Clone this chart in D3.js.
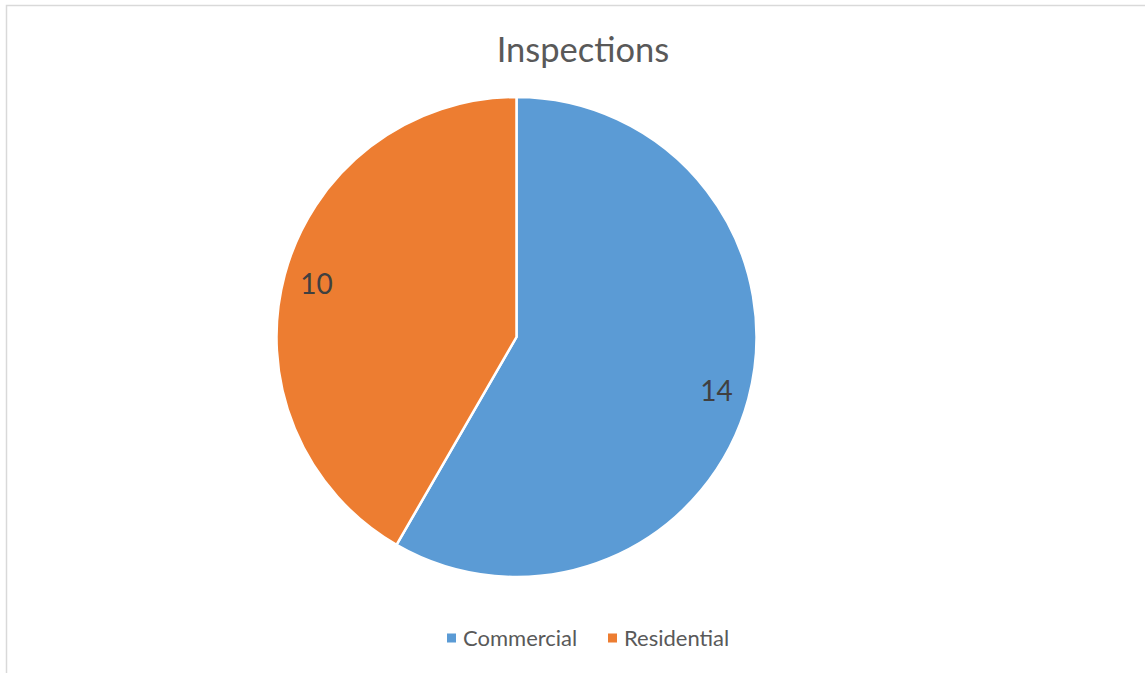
<!DOCTYPE html>
<html>
<head>
<meta charset="utf-8">
<script src="https://cdn.jsdelivr.net/npm/d3@7"></script>
<style>
  body { margin: 0; background: #fff; }
  text { font-family: Lato, "Open Sans", sans-serif; }
</style>
</head>
<body>
<script>
var categories = ["Commercial", "Residential"];
var values = [14, 10];
var colors = ["#5B9BD5", "#ED7D31"];
var title = "Inspections";

var width = 1145, height = 673;
var cx = 516.5, cy = 337, radius = 240;

var svg = d3.select("body").append("svg")
    .attr("width", width)
    .attr("height", height);

// chart border (only top and left show in the crop)
svg.append("rect")
    .attr("x", 6.5).attr("y", 5.5)
    .attr("width", 1160).attr("height", 700)
    .attr("fill", "#fff")
    .attr("stroke", "#d9d9d9")
    .attr("stroke-width", 1.5);

svg.append("text")
    .attr("x", 583).attr("y", 62)
    .attr("text-anchor", "middle")
    .attr("font-size", 34.5)
    .attr("fill", "#595959")
    .text(title);

var data = categories.map(function (c, i) { return { name: c, value: values[i] }; });

var pie = d3.pie().sort(null).value(function (d) { return d.value; });
var arc = d3.arc().innerRadius(0).outerRadius(radius);
var labelArc = d3.arc().innerRadius(207).outerRadius(207);
var color = d3.scaleOrdinal().domain(categories).range(colors);

var g = svg.append("g").attr("transform", "translate(" + cx + "," + cy + ")");

g.selectAll("path")
    .data(pie(data))
    .enter()
    .append("path")
    .attr("d", arc)
    .attr("fill", function (d) { return color(d.data.name); })
    .attr("stroke", "#fff")
    .attr("stroke-width", 2.5);

g.selectAll("text.lbl")
    .data(pie(data))
    .enter()
    .append("text")
    .attr("class", "lbl")
    .attr("transform", function (d) { return "translate(" + labelArc.centroid(d) + ")"; })
    .attr("text-anchor", "middle")
    .attr("dy", "0.36em")
    .attr("font-size", 28)
    .attr("fill", "#404040")
    .text(function (d) { return d.data.value; });

// legend
var legendX = [447, 608];
var legend = svg.selectAll("g.legend")
    .data(categories)
    .enter()
    .append("g")
    .attr("class", "legend")
    .attr("transform", function (d, i) { return "translate(" + legendX[i] + ",638)"; });

legend.append("rect")
    .attr("x", 0).attr("y", -4.5)
    .attr("width", 9).attr("height", 9)
    .attr("fill", function (d) { return color(d); });

legend.append("text")
    .attr("x", 16).attr("y", 0)
    .attr("dy", "0.36em")
    .attr("font-size", 22)
    .attr("fill", "#595959")
    .text(function (d) { return d; });
</script>
</body>
</html>
